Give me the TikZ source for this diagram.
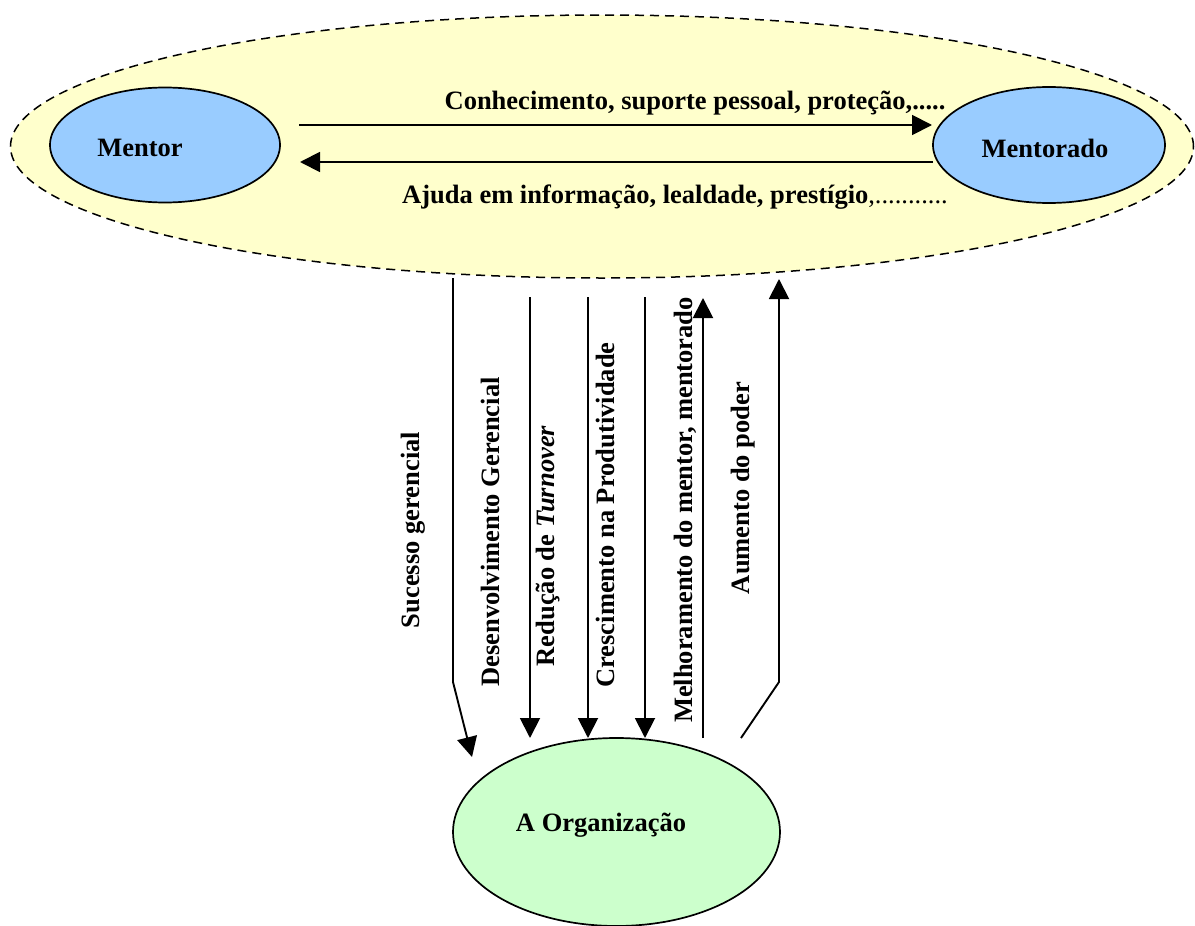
\documentclass[tikz,border=0pt]{standalone}
\usepackage{fontspec}
\setmainfont{Liberation Serif}
\usetikzlibrary{arrows.meta,shapes.geometric}
\begin{document}
\begin{tikzpicture}[x=1pt,y=-1pt,
  lbl/.style={font=\fontsize{26.5}{30}\selectfont\bfseries, inner sep=0pt},
  vlbl/.style={lbl, rotate=90},
  arr/.style={line width=1.9pt,-{Triangle[length=20pt,width=20pt]}},
  blob/.style={ellipse, draw, line width=1.7pt, inner sep=0pt}]
\useasboundingbox (0,0) rectangle (1195,926);
% group ellipse
\node[blob, line width=1.5pt, dash pattern=on 9pt off 6pt, fill={rgb,255:red,255;green,255;blue,204},
      minimum width=1183pt, minimum height=263pt] (grp) at (602,146.5) {};
\node[blob, fill={rgb,255:red,153;green,204;blue,255}, minimum width=230pt, minimum height=115pt] (mentor) at (165,145) {};
\node[lbl] (mentorT) at (140,148) {Mentor};
\node[blob, fill={rgb,255:red,153;green,204;blue,255}, minimum width=232pt, minimum height=116pt] (mentorado) at (1049,145) {};
\node[lbl] (mentoradoT) at (1045,148) {Mentorado};
\node[blob, fill={rgb,255:red,204;green,255;blue,204}, minimum width=327pt, minimum height=188pt] (org) at (616.5,832) {};
\node[lbl] (orgT) at (601,825) {A Organização};
% horizontal arrows
\coordinate (h1s) at (299,125);
\coordinate (h1e) at (932,125);
\coordinate (h2s) at (933,162);
\coordinate (h2e) at (300,162);
\draw[arr] (h1s) -- (h1e);
\draw[arr] (h2s) -- (h2e);
\node[lbl] (t1) at (695,103) {Conhecimento, suporte pessoal, proteção,.....};
\node[lbl, anchor=west] (t2) at (402,197) {Ajuda em informação, lealdade, prestígio\mdseries,...........};
% vertical connectors
\coordinate (v1a) at (453,278); \coordinate (v1b) at (453,682); \coordinate (v1c) at (472,757);
\coordinate (v2a) at (530,297); \coordinate (v2b) at (530,738);
\coordinate (v3a) at (588,297); \coordinate (v3b) at (588,738);
\coordinate (v4a) at (645,297); \coordinate (v4b) at (645,738);
\coordinate (v5a) at (703,738); \coordinate (v5b) at (703,298);
\coordinate (v6a) at (741,738); \coordinate (v6b) at (779,682); \coordinate (v6c) at (779,279);
\draw[arr] (v1a) -- (v1b) -- (v1c);
\draw[arr] (v2a) -- (v2b);
\draw[arr] (v3a) -- (v3b);
\draw[arr] (v4a) -- (v4b);
\draw[arr] (v5a) -- (v5b);
\draw[arr] (v6a) -- (v6b) -- (v6c);
% vertical labels
\node[vlbl] (l1) at (413,530) {Sucesso gerencial};
\node[vlbl] (l2) at (490,532) {Desenvolvimento Gerencial};
\node[vlbl] (l3) at (548,546) {Redução de \textit{Turnover}};
\node[vlbl] (l4) at (605,515) {Crescimento na Produtividade};
\node[vlbl] (l5) at (685,510) {Melhoramento do mentor, mentorado};
\node[vlbl] (l6) at (743,488) {Aumento do poder};
\end{tikzpicture}
\end{document}
